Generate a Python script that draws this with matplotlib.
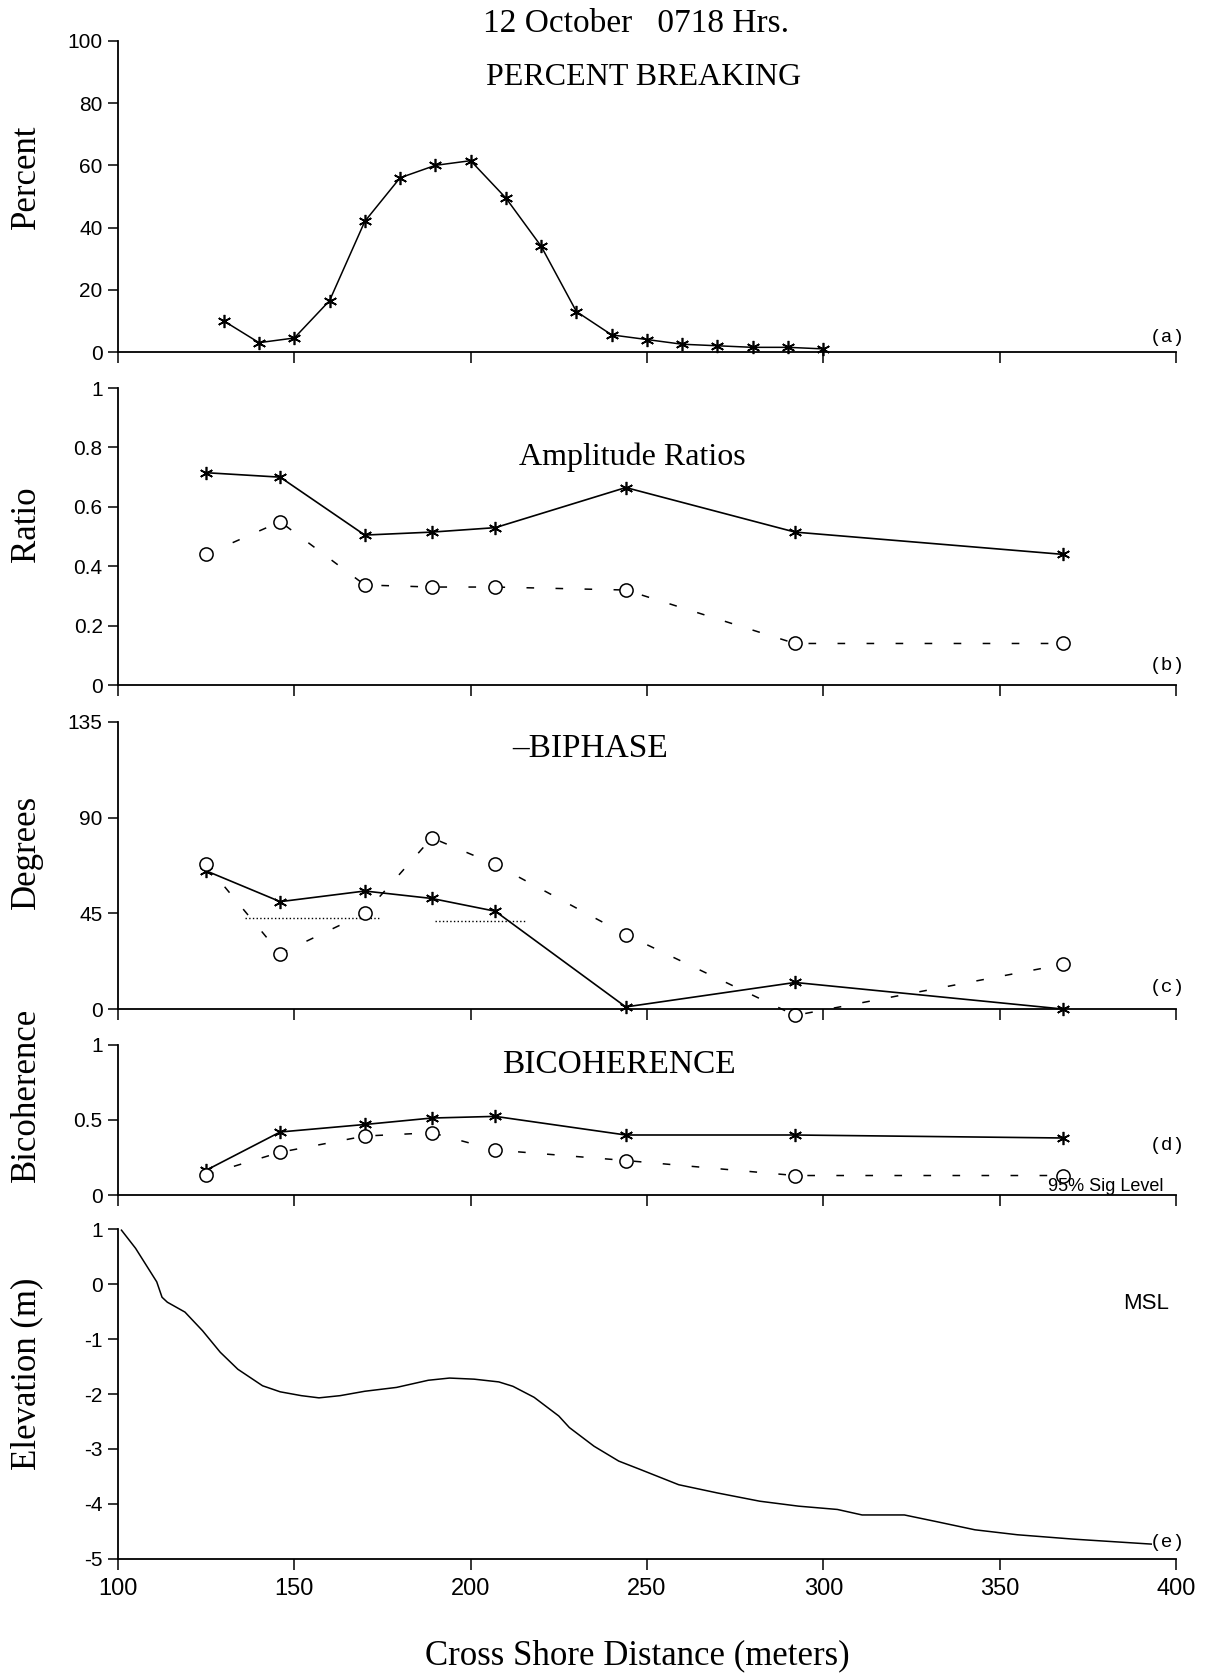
import matplotlib
matplotlib.use('Agg')
import matplotlib.pyplot as plt

plt.rcParams['axes.unicode_minus'] = False

# (a) percent breaking
brk_x = [130, 140, 150, 160, 170, 180, 190, 200, 210, 220, 230, 240, 250, 260, 270, 280, 290, 300]
brk_y = [10, 3, 4.5, 16.5, 42, 56, 60, 61.5, 49.5, 34, 13, 5.5, 4, 2.5, 2, 1.5, 1.5, 1]

# sensor positions used in (b)-(d)
sens_x = [125, 146, 170, 189, 207, 244, 292, 368]

# (b) amplitude ratios
amp_star = [0.715, 0.70, 0.505, 0.515, 0.53, 0.665, 0.515, 0.44]
amp_circ = [0.44, 0.55, 0.337, 0.33, 0.33, 0.32, 0.14, 0.14]

# (c) -biphase (degrees)
bph_star = [65, 50.5, 55.5, 52, 46, 1, 12.5, 0]
bph_circ = [68, 26, 45, 80.5, 68, 35, -3, 21]
sig_c_x1 = [136, 174]
sig_c_y1 = [43, 43]
sig_c_x2 = [190, 216]
sig_c_y2 = [41.5, 41.5]

# (d) bicoherence
bic_star = [0.165, 0.42, 0.47, 0.513, 0.524, 0.40, 0.40, 0.38]
bic_circ = [0.135, 0.285, 0.393, 0.415, 0.30, 0.23, 0.13, 0.13]

# (e) bottom profile
elev_x = [101, 105, 111, 112.5, 114, 119, 124, 129, 134, 141, 146, 152, 157, 163,
          170, 179, 188, 194, 201, 208, 212, 218, 225, 228, 235, 242, 248, 259, 270,
          282, 293, 304, 311, 323, 332, 343, 355, 371, 393]
elev_y = [0.98, 0.65, 0.04, -0.24, -0.33, -0.51, -0.85, -1.24, -1.55, -1.85, -1.96,
          -2.03, -2.07, -2.03, -1.95, -1.88, -1.75, -1.71, -1.73, -1.78, -1.86, -2.06,
          -2.40, -2.61, -2.95, -3.22, -3.37, -3.65, -3.80, -3.95, -4.04, -4.10, -4.20,
          -4.20, -4.32, -4.47, -4.56, -4.64, -4.73]

xticks = [100, 150, 200, 250, 300, 350, 400]

SERIF = 'Liberation Serif'
SANS = 'Liberation Sans'

fig = plt.figure(figsize=(12.21, 16.77), dpi=100)
L, W = 0.0966, 0.8665
ax_a = fig.add_axes([L, 0.7901, W, 0.1855])
ax_b = fig.add_axes([L, 0.5915, W, 0.1771])
ax_c = fig.add_axes([L, 0.3983, W, 0.1712])
ax_d = fig.add_axes([L, 0.2874, W, 0.0895])
ax_e = fig.add_axes([L, 0.0704, W, 0.1967])

star = dict(marker=(6, 2, 0), markersize=9.5, markeredgewidth=1.2, color='black')
circ = dict(marker='o', markersize=9.5, markerfacecolor='white', markeredgecolor='black',
            markeredgewidth=1.1, color='black')

def style(ax, ylim, yticks, ylabels, bottom=False):
    ax.set_xlim(100, 400)
    ax.set_ylim(*ylim)
    for s in ['top', 'right']:
        ax.spines[s].set_visible(False)
    for s in ['left', 'bottom']:
        ax.spines[s].set_linewidth(1.3)
    ax.set_xticks(xticks)
    ax.set_yticks(yticks)
    ax.set_yticklabels(ylabels, fontfamily=SANS, fontsize=15)
    ax.tick_params(axis='x', direction='out', length=8, width=1.1, pad=6)
    ax.tick_params(axis='y', direction='out', length=7, width=1.1, pad=4)
    if bottom:
        ax.set_xticklabels([str(t) for t in xticks], fontfamily=SANS, fontsize=17)
    else:
        ax.set_xticklabels([])

# (a)
ax_a.plot(brk_x, brk_y, lw=1.1, clip_on=False, **star)
style(ax_a, (0, 100), [0, 20, 40, 60, 80, 100], ['0', '20', '40', '60', '80', '100'])

# (b)
ax_b.plot(sens_x, amp_star, lw=1.2, clip_on=False, **star)
ax_b.plot(sens_x, amp_circ, lw=1.1, dashes=(5, 14), clip_on=False, **circ)
style(ax_b, (0, 1), [0, 0.2, 0.4, 0.6, 0.8, 1], ['0', '0.2', '0.4', '0.6', '0.8', '1'])

# (c)
ax_c.plot(sig_c_x1, sig_c_y1, ls=':', lw=1.0, color='black')
ax_c.plot(sig_c_x2, sig_c_y2, ls=':', lw=1.0, color='black')
ax_c.plot(sens_x, bph_star, lw=1.2, clip_on=False, **star)
ax_c.plot(sens_x, bph_circ, lw=1.1, dashes=(5, 14), clip_on=False, **circ)
style(ax_c, (0, 135), [0, 45, 90, 135], ['0', '45', '90', '135'])

# (d)
ax_d.plot(sens_x, bic_star, lw=1.2, clip_on=False, **star)
ax_d.plot(sens_x, bic_circ, lw=1.1, dashes=(5, 14), clip_on=False, **circ)
style(ax_d, (0, 1), [0, 0.5, 1], ['0', '0.5', '1'])
ax_d.text(0.988, 0.025, '95% Sig Level', transform=ax_d.transAxes, ha='right', va='baseline',
          fontfamily=SANS, fontsize=13)

# (e)
ax_e.plot(elev_x, elev_y, lw=1.1, color='black')
style(ax_e, (-5, 1), [-5, -4, -3, -2, -1, 0, 1], ['-5', '-4', '-3', '-2', '-1', '0', '1'],
      bottom=True)

# titles and labels
fig.text(0.521, 0.9857, '12 October   0718 Hrs.', ha='center', va='center',
         fontfamily=SERIF, fontsize=24)
fig.text(0.527, 0.954, 'PERCENT BREAKING', ha='center', va='center',
         fontfamily=SERIF, fontsize=23)
fig.text(0.518, 0.7275, 'Amplitude Ratios', ha='center', va='center',
         fontfamily=SERIF, fontsize=23)
fig.text(0.483, 0.5534, '\u2013BIPHASE', ha='center', va='center',
         fontfamily=SERIF, fontsize=24)
fig.text(0.507, 0.365, 'BICOHERENCE', ha='center', va='center',
         fontfamily=SERIF, fontsize=24)

for txt, y in [('(a)', 0.799), ('(b)', 0.603), ('(c)', 0.411), ('(d)', 0.317), ('(e)', 0.0805)]:
    fig.text(0.956, y, txt, ha='center', va='center', fontfamily='Liberation Mono', fontsize=14)
fig.text(0.939, 0.223, 'MSL', ha='center', va='center', fontfamily=SANS, fontsize=16)

for txt, y in [('Percent', 0.8945), ('Ratio', 0.6876), ('Degrees', 0.492),
               ('Bicoherence', 0.347), ('Elevation (m)', 0.181)]:
    fig.text(0.022, y, txt, rotation=90, ha='center', va='center',
             fontfamily=SERIF, fontsize=25)

fig.text(0.522, 0.0125, 'Cross Shore Distance (meters)', ha='center', va='center',
         fontfamily=SERIF, fontsize=25)

fig.savefig('out.png', dpi=100)
